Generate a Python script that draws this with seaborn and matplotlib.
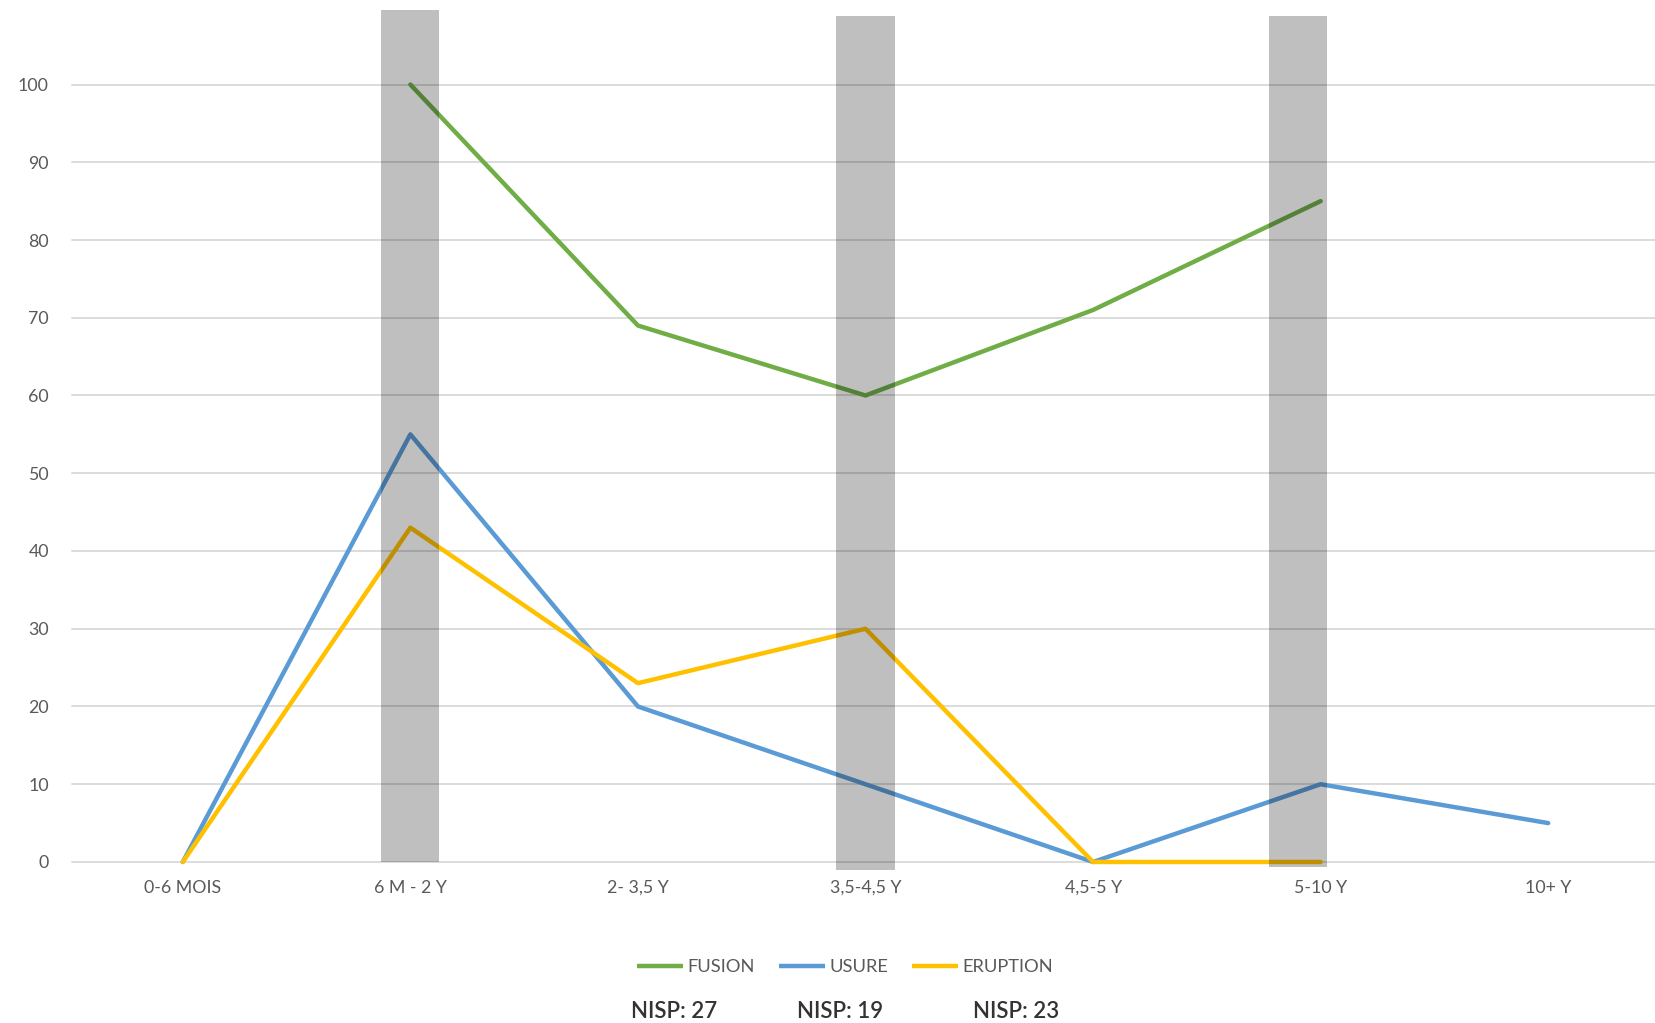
import numpy as np
import pandas as pd
import matplotlib
matplotlib.use("Agg")
import matplotlib.pyplot as plt
from matplotlib.lines import Line2D
import seaborn as sns

# Age classes on the x axis
ages = ["0-6 MOIS", "6 M - 2 Y", "2- 3,5 Y", "3,5-4,5 Y", "4,5-5 Y", "5-10 Y", "10+ Y"]

# Percentages per method (NaN = no value for that class)
fusion = [np.nan, 100, 69, 60, 71, 85, np.nan]
usure = [0, 55, 20, 10, 0, 10, 5]
eruption = [0, 43, 23, 30, 0, 0, np.nan]

series_names = ["FUSION", "USURE", "ERUPTION"]
nisp = [27, 19, 23]

# Highlighted age classes (grey bands)
highlight_ages = ["6 M - 2 Y", "3,5-4,5 Y", "5-10 Y"]
band_top = [109.6, 108.8, 108.8]
band_bottom = [0, -1.0, -0.6]
band_shift = [0.0, 0.0, -0.1]

colors = {"FUSION": "#70AD47", "USURE": "#5B9BD5", "ERUPTION": "#FFC000"}

sns.set_theme(style="white")
plt.rcParams["font.family"] = ["Lato", "DejaVu Sans"]

W, H = 1656, 1023
fig = plt.figure(figsize=(W / 100, H / 100), dpi=100)

# axes geometry in pixels
y_lo, y_hi = -1.2, 110.87
ax_left, ax_right = 69, 1662
ax_top, ax_bottom = 0, 871.3
ax = fig.add_axes([ax_left / W, (H - ax_bottom) / H,
                   (ax_right - ax_left) / W, (ax_bottom - ax_top) / H])

frames = []
for name, vals in zip(series_names, [fusion, usure, eruption]):
    frames.append(pd.DataFrame({"x": np.arange(len(ages)), "value": vals, "serie": name}))
df = pd.concat(frames, ignore_index=True).dropna()

sns.lineplot(data=df, x="x", y="value", hue="serie", hue_order=series_names,
             palette=colors, linewidth=3.2, sort=False, ax=ax,
             solid_capstyle="round", zorder=3, legend=False)

# grid lines
yticks = np.arange(0, 101, 10)
for yv in yticks:
    ax.axhline(yv, color="#d9d9d9", linewidth=1.3, zorder=1,
               xmin=0.002, xmax=1)

# translucent grey bands over the highlighted classes
band_x = [ages.index(a) + s for a, s in zip(highlight_ages, band_shift)]
band_h = [t - b for t, b in zip(band_top, band_bottom)]
ax.bar(band_x, band_h, bottom=band_bottom, width=0.255,
       color="black", alpha=0.25, linewidth=0, zorder=4)

ax.set_xlim(-0.5, 6.5)
ax.set_ylim(y_lo, y_hi)
ax.set_xticks(np.arange(len(ages)))
ax.set_xticklabels(ages)
ax.set_yticks(yticks)
ax.set_yticklabels([str(v) for v in yticks])
ax.tick_params(axis="both", length=0, labelsize=12.8, colors="#595959")
ax.tick_params(axis="y", pad=14.5)
ax.tick_params(axis="x", pad=6)
ax.set_xlabel("")
ax.set_ylabel("")
for sp in ax.spines.values():
    sp.set_visible(False)

# legend below the plot
handles = [Line2D([0], [0], color=colors[n], linewidth=3.2, solid_capstyle="butt")
           for n in series_names]
leg = fig.legend(handles, series_names, loc="center", ncol=3,
                 bbox_to_anchor=(845 / W, 1 - 967 / H), frameon=False,
                 fontsize=13.2, handlelength=2.5, handletextpad=0.25,
                 columnspacing=1.3)
for t in leg.get_texts():
    t.set_color("#595959")

# NISP counts under the legend
nisp_x = [674, 840, 1016]
for xp, n in zip(nisp_x, nisp):
    fig.text(xp / W, 1 - 1011 / H, f"NISP: {n}", ha="center", va="center",
             fontsize=16, color="#333333", fontweight="semibold")

fig.savefig("out.png", dpi=100)
